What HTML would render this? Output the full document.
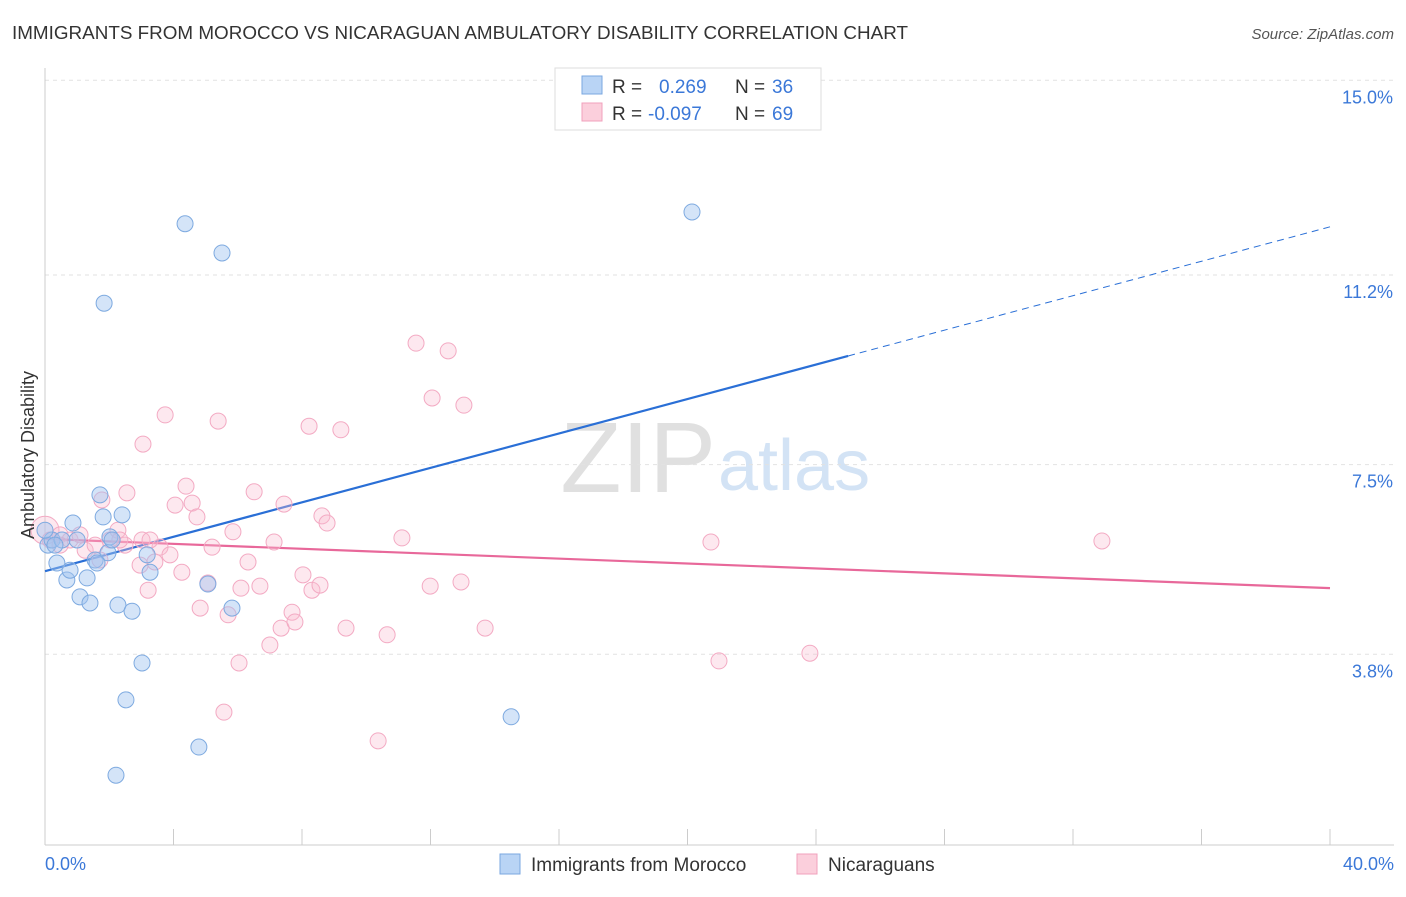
<!DOCTYPE html>
<html><head><meta charset="utf-8"><style>
body{margin:0;background:#fff;font-family:"Liberation Sans",sans-serif;}
svg text{font-family:"Liberation Sans",sans-serif;}
</style></head><body>
<svg id="chart" width="1406" height="892">
<text x="12" y="39" font-size="18" fill="#333" textLength="896" lengthAdjust="spacingAndGlyphs">IMMIGRANTS FROM MOROCCO VS NICARAGUAN AMBULATORY DISABILITY CORRELATION CHART</text>
<text x="1394" y="39" font-size="15" fill="#555" font-style="italic" text-anchor="end">Source: ZipAtlas.com</text>
<text x="716" y="492" font-size="100" fill="#e0e0e0" text-anchor="end" font-family="Liberation Serif">ZIP</text>
<text x="718" y="490" font-size="72" fill="#d3e3f5">atlas</text>
<g id="grid"></g><g id="axes"></g><g id="lines"></g><g id="points"></g>
<text x="34" y="455" font-size="18" fill="#333" text-anchor="middle" transform="rotate(-90 34 455)">Ambulatory Disability</text>
<text x="45" y="870" font-size="18" fill="#3b78d8">0.0%</text>
<text x="1394" y="870" font-size="18" fill="#3b78d8" text-anchor="end">40.0%</text>
<g>
<rect x="555" y="68" width="266" height="62" fill="#fff" stroke="#ddd"/>
<rect x="582" y="76" width="20" height="18" fill="#b9d4f5" stroke="#7aa7e0"/>
<rect x="582" y="103" width="20" height="18" fill="#fbcfdc" stroke="#f0a0bc"/>
<text x="612" y="93" font-size="19" fill="#333">R =</text>
<text x="659" y="93" font-size="19" fill="#3b78d8">0.269</text>
<text x="735" y="93" font-size="19" fill="#333">N =</text>
<text x="772" y="93" font-size="19" fill="#3b78d8">36</text>
<text x="612" y="120" font-size="19" fill="#333">R =</text>
<text x="648" y="120" font-size="19" fill="#3b78d8">-0.097</text>
<text x="735" y="120" font-size="19" fill="#333">N =</text>
<text x="772" y="120" font-size="19" fill="#3b78d8">69</text>
</g>
<g>
<rect x="500" y="854" width="20" height="20" fill="#b9d4f5" stroke="#7aa7e0"/>
<text x="531" y="871" font-size="19" fill="#333">Immigrants from Morocco</text>
<rect x="797" y="854" width="20" height="20" fill="#fbcfdc" stroke="#f0a0bc"/>
<text x="828" y="871" font-size="19" fill="#333">Nicaraguans</text>
</g>
</svg>
<script>
const yTicks=[3.8,7.5,11.2,15.0];
const yTickLabels=["3.8%","7.5%","11.2%","15.0%"];
const xTicks=[0,4,8,12,16,20,24,28,32,36,40];
const moroccoX=[0.09,0.22,0.37,0.53,0.68,0.78,0.87,1.0,1.09,1.31,1.40,1.56,1.71,1.81,1.84,1.96,2.02,2.27,2.40,2.71,3.02,3.18,3.27,2.52,2.21,4.36,5.51,4.79,5.07,5.82,14.51,20.14,0,0.31,1.62,2.09];
const moroccoY=[5.93,6.03,5.58,6.03,5.25,5.44,6.36,6.03,4.92,5.29,4.80,5.64,6.91,6.48,10.65,5.78,6.09,4.76,6.52,4.64,3.63,5.74,5.40,2.91,1.44,12.20,11.63,1.99,5.17,4.70,2.58,12.43,6.22,5.93,5.58,6.03];
const nicX=[0,0.16,0.47,0.78,1.25,1.56,1.77,2.02,2.27,2.49,2.55,2.96,3.05,3.21,3.42,3.58,3.74,3.89,4.05,4.26,4.39,4.58,4.73,4.83,5.07,5.20,5.39,5.57,5.70,5.85,6.04,6.10,6.32,6.51,6.69,7.00,7.13,7.35,7.44,7.69,7.78,8.03,8.22,8.31,8.56,8.62,8.78,9.21,9.37,10.37,10.65,11.11,11.55,11.99,12.05,12.55,12.95,13.04,13.70,20.73,20.98,23.81,32.90,3.02,2.33,0.47,1.09,3.27,1.71];
const nicY=[6.22,6.03,6.13,6.03,5.83,5.93,6.81,6.03,6.22,5.93,6.95,5.54,7.90,5.05,5.60,5.89,8.47,5.74,6.71,5.40,7.08,6.75,6.48,4.70,5.19,5.89,8.35,2.67,4.57,6.19,3.63,5.09,5.60,6.97,5.13,3.98,5.99,4.31,6.73,4.62,4.43,5.35,8.25,5.05,5.15,6.50,6.36,8.18,4.31,2.11,4.18,6.07,9.87,5.13,8.80,9.72,5.21,8.66,4.31,5.99,3.67,3.82,6.01,6.03,6.03,5.93,6.13,6.03,5.64];
const moroccoTrend=[5.42,0.168]; // intercept, slope
const nicTrend=[6.05,-0.024];
const moroccoSolidEnd=25;
const NS="http://www.w3.org/2000/svg";
const X=v=>45+v/40*1285, Y=v=>849-v*51.25;
function mk(t,a,p){const e=document.createElementNS(NS,t);for(const k in a)e.setAttribute(k,a[k]);p.appendChild(e);return e;}
const grid=document.getElementById('grid'),axes=document.getElementById('axes'),lines=document.getElementById('lines'),pts=document.getElementById('points');
yTicks.forEach((t,i)=>{
 const l=mk('line',{x1:45,x2:1394,y1:Y(t),y2:Y(t),stroke:'#e2e2e2','stroke-dasharray':'4,4'},grid);
 
 
 const tx=mk('text',{x:1393,y:Y(t)+23,'font-size':18,fill:'#3b78d8','text-anchor':'end'},grid);
 tx.textContent=yTickLabels[i];
 
 
});
const la=mk('line',{x1:45,x2:45,y1:68,y2:845,stroke:'#ccc'},axes);


const ba=mk('line',{x1:45,x2:1394,y1:845,y2:845,stroke:'#ccc'},axes);


xTicks.forEach(t=>{
 const l=mk('line',{x1:X(t),x2:X(t),y1:829,y2:845,stroke:'#ccc'},axes);
 
 
});
function dot(x,y,fill,stroke,name,r){
 const c=mk('circle',{cx:X(x),cy:Y(y),r:r||8,fill:fill,stroke:stroke,'stroke-width':1},pts);
 
 
}
nicX.forEach((x,i)=>dot(x,nicY[i],'rgba(248,190,210,0.35)','#f3aac3','nicaraguan-point',i===0?14:8));
moroccoX.forEach((x,i)=>dot(x,moroccoY[i],'rgba(160,196,240,0.45)','#7eaae0','morocco-point'));
const f=(tr,x)=>tr[0]+tr[1]*x;
const b1=mk('line',{x1:X(0),y1:Y(f(moroccoTrend,0)),x2:X(moroccoSolidEnd),y2:Y(f(moroccoTrend,moroccoSolidEnd)),stroke:'#2a6fd6','stroke-width':2.2},lines);


const b2=mk('line',{x1:X(moroccoSolidEnd),y1:Y(f(moroccoTrend,moroccoSolidEnd)),x2:X(40),y2:Y(f(moroccoTrend,40)),stroke:'#2a6fd6','stroke-width':1,'stroke-dasharray':'7,5'},lines);


const p1=mk('line',{x1:X(0),y1:Y(f(nicTrend,0)),x2:X(40),y2:Y(f(nicTrend,40)),stroke:'#e8689a','stroke-width':2.2},lines);


</script>
</body></html>
